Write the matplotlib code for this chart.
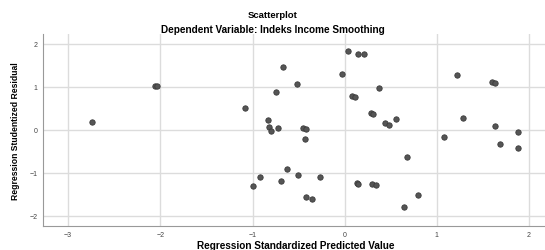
import matplotlib.pyplot as plt

plt.rcParams['font.family'] = ['Liberation Sans', 'DejaVu Sans']

# standardized predicted value (x) vs studentized residual (y)
pred = [-2.74, -2.06, -2.04, -1.08, -1.00, -0.92, -0.83, -0.82, -0.80, -0.75,
        -0.72, -0.69, -0.67, -0.63, -0.52, -0.51, -0.45, -0.42, -0.43, -0.42,
        -0.36, -0.27, -0.03, 0.04, 0.14, 0.21, 0.08, 0.11, 0.37, 0.28,
        0.31, 0.44, 0.48, 0.56, 0.13, 0.14, 0.30, 0.34, 0.68, 0.79,
        0.64, 1.08, 1.22, 1.28, 1.60, 1.63, 1.63, 1.69, 1.88, 1.88]
resid = [0.19, 1.01, 1.01, 0.51, -1.30, -1.11, 0.22, 0.07, -0.04, 0.88,
         0.03, -1.19, 1.47, -0.92, 1.07, -1.05, 0.03, 0.02, -0.22, -1.57,
         -1.60, -1.09, 1.29, 1.83, 1.77, 1.76, 0.79, 0.77, 0.97, 0.39,
         0.37, 0.15, 0.12, 0.26, -1.24, -1.25, -1.27, -1.29, -0.64, -1.51,
         -1.80, -0.16, 1.28, 0.27, 1.12, 1.09, 0.09, -0.33, -0.05, -0.42]

xticks = [-3, -2, -1, 0, 1, 2]
yticks = [-2, -1, 0, 1, 2]

fig = plt.figure(figsize=(5.45, 2.51), dpi=100)
ax = fig.add_axes([0.0795, 0.097, 0.925, 0.764])

ax.scatter(pred, resid, s=15, color="#555555", edgecolors="#3a3a3a",
           linewidths=0.6, zorder=3)

ax.set_xlim(-3.27, 2.2)
ax.set_ylim(-2.23, 2.23)
ax.set_xticks(xticks)
ax.set_yticks(yticks)
ax.grid(True, color="#dcdcdc", linewidth=1.0)
ax.set_axisbelow(True)
ax.tick_params(length=0, labelsize=5, colors="#444444", pad=4)
for side in ["top", "right"]:
    ax.spines[side].set_visible(False)
for side in ["left", "bottom"]:
    ax.spines[side].set_color("#999999")

ax.set_xlabel("Regression Standardized Predicted Value", fontsize=7.2,
              fontweight="bold", labelpad=1)
ax.set_ylabel("Regression Studentized Residual", fontsize=6.2,
              fontweight="bold", labelpad=7)

fig.text(0.5, 0.94, "Scatterplot", ha="center", va="center",
         fontsize=6.8, fontweight="bold")
fig.text(0.5, 0.88, "Dependent Variable: Indeks Income Smoothing",
         ha="center", va="center", fontsize=7.2, fontweight="bold")

plt.savefig("out.png", dpi=100)
